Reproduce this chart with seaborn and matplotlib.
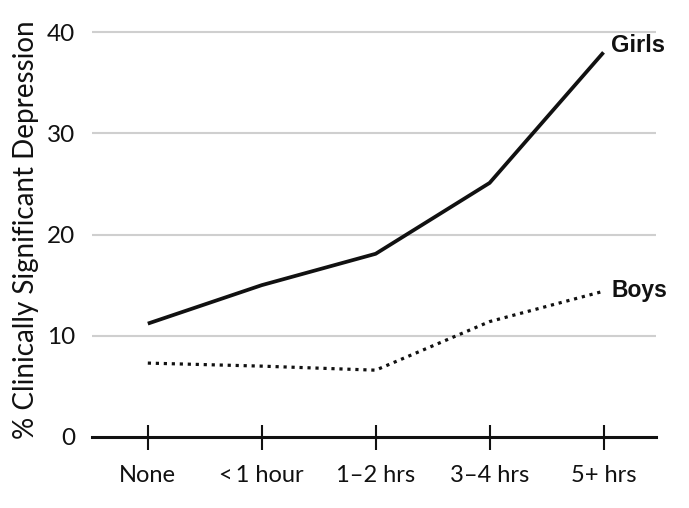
import matplotlib
matplotlib.use("Agg")
import matplotlib.pyplot as plt
import seaborn as sns
import pandas as pd

categories = ["None", "<\u20091 hour", "1\u20132 hrs", "3\u20134 hrs", "5+ hrs"]
girls = [11.2, 15.0, 18.1, 25.1, 38.0]
boys = [7.3, 7.0, 6.6, 11.4, 14.4]
yticks = [0, 10, 20, 30, 40]

sns.set_theme(style="white")
plt.rcParams['font.family'] = ['Lato', 'DejaVu Sans']

df = pd.DataFrame({
    "x": list(range(len(categories))) * 2,
    "value": girls + boys,
    "group": ["Girls"] * len(girls) + ["Boys"] * len(boys),
})

fig = plt.figure(figsize=(6.89, 5.08), dpi=100)
ax = fig.add_axes([0.1335, 0.1398, 0.952 - 0.1335, 0.9567 - 0.1398])

for y in yticks[1:]:
    ax.axhline(y, color="#cfcfcf", lw=1.5, zorder=0)

sns.lineplot(data=df[df.group == "Girls"], x="x", y="value", color="#111111",
             lw=2.7, ax=ax, legend=False, solid_capstyle="butt")
sns.lineplot(data=df[df.group == "Boys"], x="x", y="value", color="#111111",
             lw=2.3, ax=ax, legend=False, linestyle=(0, (1, 1.5)),
             dash_capstyle="butt")

ax.set_xlim(-0.49, 4.46)
ax.set_ylim(0, 41)
ax.set_xticks(range(len(categories)))
ax.set_xticklabels(categories, fontsize=17, color="#111111")
ax.set_yticks(yticks)
ax.set_yticklabels([str(v) for v in yticks], fontsize=17.5, color="#111111")
ax.tick_params(axis="x", bottom=True, direction="inout", length=18, width=1.5,
               color="#111111", pad=11)
ax.tick_params(axis="y", left=False, length=0, pad=12)
ax.set_xlabel("")
ax.set_ylabel("% Clinically Significant Depression", fontsize=20, color="#111111", labelpad=6)

for s in ["top", "right", "left"]:
    ax.spines[s].set_visible(False)
ax.spines["bottom"].set_color("#111111")
ax.spines["bottom"].set_linewidth(2.2)

ax.text(4.07, 38.7, "Girls", fontsize=17, fontweight="bold",
        family=["Liberation Sans", "DejaVu Sans"], va="center", ha="left", color="#111111")
ax.text(4.07, 14.5, "Boys", fontsize=16.5, fontweight="bold",
        family=["Liberation Sans", "DejaVu Sans"], va="center", ha="left", color="#111111")

fig.savefig("out.png", dpi=100)
